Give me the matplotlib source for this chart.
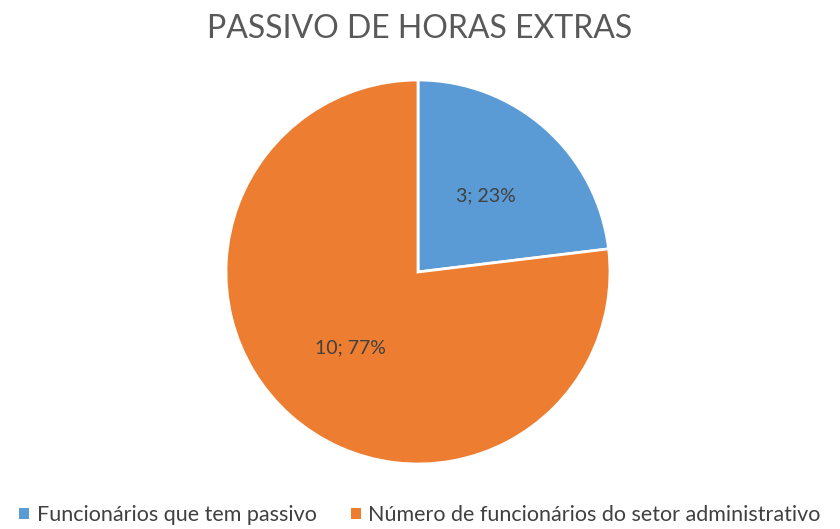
import matplotlib
matplotlib.use("Agg")
import matplotlib.pyplot as plt
from matplotlib.patches import Patch

categories = ["Funcionários que tem passivo", "Número de funcionários do setor administrativo"]
values = [3, 10]
colors = ["#5B9BD5", "#ED7D31"]
title = "PASSIVO DE HORAS EXTRAS"

plt.rcParams['font.family'] = ['Lato', 'DejaVu Sans']

fig = plt.figure(figsize=(8.4, 5.29), dpi=100)
cx, cy, r = 418, 272, 192
W, H = 840, 529
ax = fig.add_axes([(cx - r) / W, (H - cy - r) / H, 2 * r / W, 2 * r / H])

total = sum(values)

def fmt(pct):
    v = int(round(pct * total / 100))
    return f"{v}; {pct:.0f}%"

wedges, texts, autotexts = ax.pie(
    values, colors=colors, startangle=90, counterclock=False,
    autopct=fmt, pctdistance=0.53, radius=1.0,
    wedgeprops=dict(edgecolor="white", linewidth=2),
    textprops=dict(color="#404040", fontsize=14))
ax.set_xlim(-1.0, 1.0)
ax.set_ylim(-1.0, 1.0)
ax.set_aspect("equal")
ax.axis("off")

fig.text(0.5, 1 - 29 / H, title, ha="center", va="center", fontsize=23, color="#595959")

handles = [Patch(facecolor=c, edgecolor="none") for c in colors]
fig.legend(handles, categories, loc="center", bbox_to_anchor=(0.5, 1 - 515 / H),
           ncol=2, frameon=False, fontsize=15.5, handlelength=0.45, handleheight=0.45,
           handletextpad=0.35, columnspacing=1.6, labelcolor="#404040")

fig.savefig("out.png", dpi=100)
